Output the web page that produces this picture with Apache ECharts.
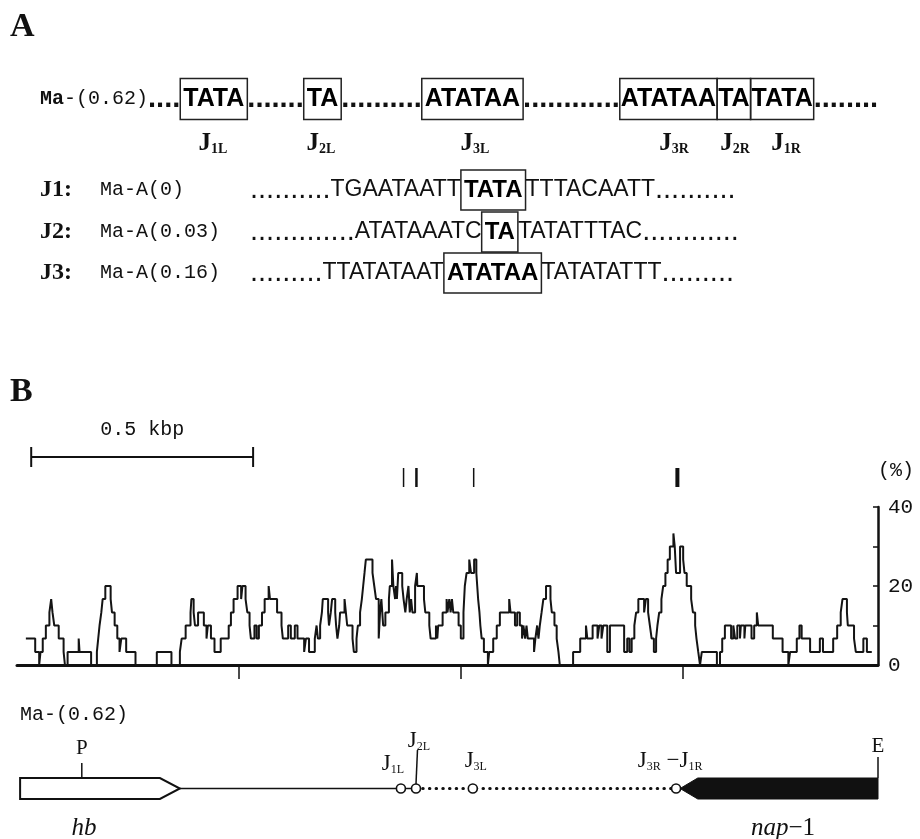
<!DOCTYPE html>
<html>
<head>
<meta charset="utf-8">
<title>Ma-(0.62)</title>
<script src="https://cdn.jsdelivr.net/npm/echarts@6.0.0/dist/echarts.min.js"></script>
<style>
html,body{margin:0;padding:0;background:#ffffff;}
#chart{width:920px;height:839px;}
</style>
</head>
<body>
<div id="chart"></div>
<script>
// ================= DATA =================
// Panel B profile: breakpoints along Ma-(0.62) (bp) and the value (%) that starts there
const positionsBp = [
  20, 41, 50, 53, 58, 65, 73, 77, 80, 84,
  94, 105, 108, 114, 139, 141, 167, 180, 183, 186,
  190, 193, 199, 211, 214, 220, 226, 231, 235, 246,
  267, 315, 348, 367, 371, 380, 391, 393, 398, 401,
  408, 421, 427, 430, 437, 445, 459, 477, 482, 488,
  497, 505, 508, 515, 519, 524, 527, 535, 540, 545,
  552, 558, 567, 570, 586, 596, 599, 611, 617, 626,
  632, 647, 651, 658, 671, 675, 678, 683, 687, 689,
  701, 703, 707, 710, 717, 719, 722, 726, 728, 738,
  741, 744, 756, 759, 765, 768, 773, 777, 780, 783,
  786, 801, 805, 809, 815, 818, 821, 825, 830, 838,
  840, 845, 848, 852, 854, 856, 859, 868, 871, 875,
  878, 882, 885, 888, 891, 897, 901, 902, 917, 920,
  929, 932, 944, 947, 949, 959, 968, 970, 974, 977,
  980, 983, 995, 1000, 1006, 1009, 1013, 1019, 1023, 1030,
  1035, 1037, 1039, 1042, 1044, 1047, 1052, 1061, 1064, 1073,
  1081, 1088, 1109, 1112, 1122, 1127, 1133, 1138, 1141, 1145,
  1148, 1151, 1165, 1168, 1172, 1175, 1178, 1182, 1186, 1192,
  1202, 1205, 1211, 1216, 1220, 1223, 1253, 1269, 1282, 1285,
  1297, 1308, 1312, 1317, 1321, 1330, 1336, 1368, 1375, 1380,
  1385, 1391, 1395, 1400, 1413, 1417, 1422, 1426, 1430, 1435,
  1440, 1443, 1447, 1452, 1456, 1461, 1466, 1471, 1479, 1482,
  1485, 1494, 1501, 1504, 1509, 1519, 1523, 1528, 1531, 1535,
  1539, 1543, 1577, 1584, 1589, 1595, 1609, 1614, 1618, 1623,
  1629, 1631, 1639, 1641, 1655, 1661, 1667, 1670, 1703, 1725,
  1738, 1742, 1757, 1763, 1768, 1787, 1809, 1816, 1839, 1848,
  1856, 1860, 1870, 1872, 1886, 1890, 1907, 1915, 1926
];
const percent = [
  6.7, 3.3, 0, 3.3, 6.7, 10, 13.3, 16.7, 13.3, 10,
  6.7, 3.3, 0, 3.3, 6.7, 3.3, 0, 3.3, 6.7, 10,
  13.3, 16.7, 20, 16.7, 13.3, 10, 6.7, 3.3, 6.7, 3.3,
  0, 3.3, 0, 3.3, 6.7, 10, 13.3, 16.7, 13.3, 10,
  13.3, 10, 6.7, 10, 6.7, 3.3, 6.7, 10, 13.3, 16.7,
  20, 16.7, 20, 16.7, 13.3, 10, 6.7, 10, 6.7, 10,
  13.3, 16.7, 20, 16.7, 13.3, 10, 6.7, 10, 6.7, 10,
  6.7, 3.3, 6.7, 3.3, 6.7, 10, 6.7, 10, 13.3, 16.7,
  13.3, 10, 13.3, 16.7, 13.3, 10, 6.7, 10, 13.3, 16.7,
  13.3, 10, 6.7, 3.3, 6.7, 10, 13.3, 16.7, 20, 23.3,
  26.7, 23.3, 20, 16.7, 6.7, 13.3, 16.7, 10, 13.3, 16.7,
  20, 26.7, 20, 16.7, 20, 16.7, 23.3, 20, 16.7, 13.3,
  16.7, 20, 13.3, 16.7, 13.3, 20, 23.3, 20, 16.7, 13.3,
  10, 6.7, 10, 6.7, 10, 13.3, 16.7, 13.3, 16.7, 13.3,
  16.7, 13.3, 10, 6.7, 13.3, 20, 23.3, 26.7, 23.3, 26.7,
  23.3, 20, 16.7, 13.3, 10, 6.7, 3.3, 0, 3.3, 6.7,
  10, 13.3, 16.7, 13.3, 10, 13.3, 10, 6.7, 10, 6.7,
  10, 6.7, 3.3, 6.7, 10, 6.7, 10, 13.3, 16.7, 20,
  16.7, 13.3, 10, 6.7, 3.3, 0, 3.3, 6.7, 10, 6.7,
  10, 6.7, 10, 6.7, 10, 3.3, 10, 3.3, 6.7, 3.3,
  6.7, 10, 13.3, 16.7, 13.3, 16.7, 13.3, 10, 6.7, 3.3,
  6.7, 10, 13.3, 16.7, 20, 23.3, 26.7, 30, 33.3, 30,
  23.3, 30, 26.7, 23.3, 20, 16.7, 13.3, 10, 6.7, 3.3,
  0, 3.3, 0, 3.3, 6.7, 10, 6.7, 10, 6.7, 10,
  6.7, 10, 6.7, 10, 6.7, 10, 13.3, 10, 6.7, 3.3,
  0, 3.3, 6.7, 10, 6.7, 3.3, 6.7, 3.3, 6.7, 10,
  13.3, 16.7, 13.3, 10, 6.7, 3.3, 6.7, 3.3, 3.3
];
const yTickLabels = [0, 20, 40];
const xTicksBp = [500, 1000, 1500];
const axisMaxBp = 1940;
const scaleBarBp = [32, 532];
const scaleBarLabel = '0.5 kbp';
const cutMarksBp = [871, 900, 1029, 1488];

// Panel B map of Ma-(0.62)
const mapTitle = 'Ma-(0.62)';
const junctionBp = [865, 899, 1027, 1485];
const junctionLabels = ['{j|J}{s|1L}', '{j|J}{s|2L}', '{j|J}{s|3L}', '{j|J}{s|3R}{j| −J}{s|1R}'];
const geneNames = ['{i|hb}', '{i|nap}{n|−1}'];
const geneStartBp = [7, 1494];
const geneEndBp = [367, 1940];
const geneHeadBp = [45, 40];
const geneStrand = [1, -1];
const siteNames = ['P', 'E'];
const siteBp = [146, 1940];
const solidBackboneBp = [367, 899];
const dottedBackboneBp = [899, 1485];

// Panel A texts
const rowTop = '{mab|Ma}{ma|-(0.62)}{d|....}{b|TATA}{d|.......}{b|TA}{d|..........}{b|ATATAA}{d|............}{c|ATATAA}{c|TA}{c|TATA}{d|........}';
const topLabels = ['{j|J}{s|1L}', '{j|J}{s|2L}', '{j|J}{s|3L}', '{j|J}{s|3R}', '{j|J}{s|2R}', '{j|J}{s|1R}'];
const rowNames = ['J1:', 'J2:', 'J3:'];
const rowStrains = ['Ma-A(0)', 'Ma-A(0.03)', 'Ma-A(0.16)'];
const rowSeqs = [
  '{d|..........}{r|TGAATAATT}{b|TATA}{r|TTTACAATT}{d|..........}',
  '{d|.............}{r|ATATAAATC}{b|TA}{r|TATATTTAC}{d|............}',
  '{d|.........}{r|TTATATAAT}{b|ATATAA}{r|TATATATTT}{d|.........}'
];

// ================= STYLE / LAYOUT =================
const INK = '#111';
const GRID_L = 17, GRID_R = 42;
const topLabelX = [213, 321, 475, 674, 735, 786];
const rowY = [190, 232, 273];
const cutMarkW = [1.5, 2.5, 1.5, 4];
const junctionDx = [-8, 3, 3, -6];
const junctionDy = [-25, -48, -28, -28];
const junctionLeader = [0, 34, 0, 0];
const siteTickLen = [15, 21];
const geneLabelDx = [-16, 4];

const boxBase = {fontFamily: 'Liberation Sans', fontWeight: 'bold', lineHeight: 24,
  borderColor: '#222', borderWidth: 1.5, fill: '#000'};
const richTop = {
  mab: {fontFamily: 'Liberation Mono', fontWeight: 'bold', fontSize: 20, fill: INK},
  ma: {fontFamily: 'Liberation Mono', fontSize: 20, fill: INK},
  d: {fontFamily: 'Liberation Sans', fontWeight: 'bold', fontSize: 29, fill: INK},
  b: Object.assign({}, boxBase, {fontSize: 25, padding: [8, 3, 8, 3]}),
  c: Object.assign({}, boxBase, {fontSize: 25, padding: [8, 1, 8, 1]})
};
const richSeq = {
  d: {fontFamily: 'Liberation Sans', fontSize: 29, fill: INK},
  r: {fontFamily: 'Liberation Sans', fontSize: 23, fill: INK},
  b: Object.assign({}, boxBase, {fontSize: 24, padding: [8, 3, 8, 3]})
};
const richJTop = {
  j: {fontFamily: 'Liberation Serif', fontWeight: 'bold', fontSize: 25, lineHeight: 26, verticalAlign: 'bottom', fill: INK},
  s: {fontFamily: 'Liberation Serif', fontWeight: 'bold', fontSize: 14, lineHeight: 17, verticalAlign: 'bottom', fill: INK}
};
const richJMap = {
  j: {fontFamily: 'Liberation Serif', fontSize: 23, lineHeight: 24, verticalAlign: 'bottom', fill: INK},
  s: {fontFamily: 'Liberation Serif', fontSize: 12, lineHeight: 15, verticalAlign: 'bottom', fill: INK}
};
const richGene = {
  i: {fontFamily: 'Liberation Serif', fontStyle: 'italic', fontSize: 25, fill: INK},
  n: {fontFamily: 'Liberation Serif', fontSize: 25, fill: INK}
};

// ================= GRAPHIC (panel A + headings) =================
const graphic = [
  {type: 'text', x: 10, y: 27, style: {text: 'A', font: 'bold 34px "Liberation Serif"', textVerticalAlign: 'middle', fill: INK}},
  {type: 'text', x: 40, y: 99, style: {text: rowTop, rich: richTop, textVerticalAlign: 'middle'}},
  {type: 'text', x: 10, y: 392, style: {text: 'B', font: 'bold 34px "Liberation Serif"', textVerticalAlign: 'middle', fill: INK}},
  {type: 'text', x: 20, y: 715, style: {text: mapTitle, font: '20px "Liberation Mono"', textVerticalAlign: 'middle', fill: INK}}
];
topLabels.forEach((t, i) => graphic.push({
  type: 'text', x: topLabelX[i], y: 143,
  style: {text: t, rich: richJTop, textAlign: 'center', textVerticalAlign: 'middle'}
}));
rowNames.forEach((n, i) => {
  graphic.push({type: 'text', x: 40, y: rowY[i], style: {text: n, font: 'bold 24px "Liberation Serif"', textVerticalAlign: 'middle', fill: INK}});
  graphic.push({type: 'text', x: 100, y: rowY[i], style: {text: rowStrains[i], font: '20px "Liberation Mono"', textVerticalAlign: 'middle', fill: INK}});
  graphic.push({type: 'text', x: 250, y: rowY[i], style: {text: rowSeqs[i], rich: richSeq, textVerticalAlign: 'middle'}});
});

// ================= CHART =================
const chart = echarts.init(document.getElementById('chart'), null, {renderer: 'canvas'});
const option = {
  animation: false,
  backgroundColor: '#ffffff',
  graphic: graphic,
  grid: [
    {left: GRID_L, right: GRID_R, top: 507, height: 158},
    {left: GRID_L, right: GRID_R, top: 778, height: 21}
  ],
  xAxis: [
    {
      gridIndex: 0, type: 'value', min: 0, max: axisMaxBp,
      axisLine: {show: true, onZero: false, lineStyle: {color: INK, width: 3}},
      axisTick: {show: true, customValues: xTicksBp, length: 14, lineStyle: {color: INK, width: 1.5}},
      axisLabel: {show: false}, splitLine: {show: false}
    },
    {gridIndex: 1, type: 'value', min: 0, max: axisMaxBp, show: false}
  ],
  yAxis: [
    {
      gridIndex: 0, type: 'value', position: 'right', min: 0, max: 40, interval: 10,
      name: '(%)', nameLocation: 'end', nameGap: 26,
      nameTextStyle: {fontFamily: 'Liberation Mono', fontSize: 20, color: INK, align: 'left'},
      axisLine: {show: true, onZero: false, lineStyle: {color: INK, width: 2.5}},
      axisTick: {show: true, inside: true, length: 5, lineStyle: {color: INK, width: 1.5}},
      axisLabel: {
        margin: 10, fontFamily: 'Liberation Mono', fontSize: 21, color: INK,
        formatter: v => (yTickLabels.indexOf(v) >= 0 ? String(v) : '')
      },
      splitLine: {show: false}
    },
    {gridIndex: 1, type: 'value', min: 0, max: 1, show: false}
  ],
  series: [
    {
      type: 'line', xAxisIndex: 0, yAxisIndex: 0, step: 'end',
      data: positionsBp.map((x, i) => [x, percent[i]]),
      showSymbol: false, symbol: 'none', z: 3,
      lineStyle: {color: '#141414', width: 2}
    },
    { // cut-site marks above the profile
      type: 'custom', xAxisIndex: 0, yAxisIndex: 0, silent: true,
      data: cutMarksBp.map(x => [x]),
      renderItem: (params, api) => {
        const p = api.coord([api.value(0), 40]);
        const w = cutMarkW[params.dataIndex];
        return {type: 'rect', shape: {x: p[0] - w / 2, y: p[1] - 39, width: w, height: 19}, style: {fill: INK}};
      }
    },
    { // scale bar
      type: 'custom', xAxisIndex: 0, yAxisIndex: 0, silent: true,
      data: [scaleBarBp],
      renderItem: (params, api) => {
        const a = api.coord([api.value(0), 40]);
        const b = api.coord([api.value(1), 40]);
        const y = a[1] - 50;
        const st = {stroke: INK, lineWidth: 2};
        return {type: 'group', children: [
          {type: 'line', shape: {x1: a[0], y1: y, x2: b[0], y2: y}, style: st},
          {type: 'line', shape: {x1: a[0], y1: y - 10, x2: a[0], y2: y + 10}, style: st},
          {type: 'line', shape: {x1: b[0], y1: y - 10, x2: b[0], y2: y + 10}, style: st},
          {type: 'text', x: (a[0] + b[0]) / 2, y: y - 27, style: {text: scaleBarLabel, font: '20px "Liberation Mono"', textAlign: 'center', textVerticalAlign: 'middle', fill: INK}}
        ]};
      }
    },
    { // solid backbone
      type: 'line', xAxisIndex: 1, yAxisIndex: 1, showSymbol: false, symbol: 'none', silent: true,
      data: solidBackboneBp.map(x => [x, 0.5]),
      lineStyle: {color: INK, width: 1.5}
    },
    { // dotted backbone
      type: 'line', xAxisIndex: 1, yAxisIndex: 1, showSymbol: false, symbol: 'none', silent: true,
      data: dottedBackboneBp.map(x => [x, 0.5]),
      lineStyle: {color: INK, width: 3, type: [0.5, 6.2], cap: 'round'}
    },
    { // genes
      type: 'custom', xAxisIndex: 1, yAxisIndex: 1, silent: true,
      data: geneStartBp.map((s, i) => [s, geneEndBp[i], geneHeadBp[i], geneStrand[i]]),
      renderItem: (params, api) => {
        const i = params.dataIndex;
        const s = api.value(0), e = api.value(1), h = api.value(2), strand = api.value(3);
        const top = api.coord([s, 1])[1], bot = api.coord([s, 0])[1], mid = (top + bot) / 2;
        const xs = api.coord([s, 0])[0], xe = api.coord([e, 0])[0];
        let pts, style;
        if (strand > 0) {
          const xb = api.coord([e - h, 0])[0];
          pts = [[xs, top], [xb, top], [xe, mid], [xb, bot], [xs, bot]];
          style = {fill: '#fff', stroke: INK, lineWidth: 2};
        } else {
          const xb = api.coord([s + h, 0])[0];
          pts = [[xs, mid], [xb, top], [xe, top], [xe, bot], [xb, bot]];
          style = {fill: INK, stroke: INK, lineWidth: 1};
        }
        return {type: 'group', children: [
          {type: 'polygon', shape: {points: pts}, style: style},
          {type: 'text', x: (xs + xe) / 2 + geneLabelDx[i], y: bot + 29,
           style: {text: geneNames[i], rich: richGene, textAlign: 'center', textVerticalAlign: 'middle'}}
        ]};
      }
    },
    { // P / E sites
      type: 'custom', xAxisIndex: 1, yAxisIndex: 1, silent: true,
      data: siteBp.map(x => [x]),
      renderItem: (params, api) => {
        const i = params.dataIndex;
        const p = api.coord([api.value(0), 1]);
        const len = siteTickLen[i];
        return {type: 'group', children: [
          {type: 'line', shape: {x1: p[0], y1: p[1], x2: p[0], y2: p[1] - len}, style: {stroke: INK, lineWidth: 1.5}},
          {type: 'text', x: p[0], y: p[1] - len - (i === 0 ? 4 : 0),
           style: {text: siteNames[i], font: '21px "Liberation Serif"', textAlign: 'center', textVerticalAlign: 'bottom', fill: INK}}
        ]};
      }
    },
    { // junction sites
      type: 'custom', xAxisIndex: 1, yAxisIndex: 1, silent: true, z: 5,
      data: junctionBp.map(x => [x, 0.5]),
      renderItem: (params, api) => {
        const i = params.dataIndex;
        const p = api.coord([api.value(0), api.value(1)]);
        const r = 4.5;
        const children = [];
        if (junctionLeader[i] > 0) {
          children.push({type: 'line', shape: {x1: p[0], y1: p[1] - r, x2: p[0] + 1.5, y2: p[1] - r - junctionLeader[i]}, style: {stroke: INK, lineWidth: 1.5}});
        }
        children.push({type: 'circle', shape: {cx: p[0], cy: p[1], r: r}, style: {fill: '#fff', stroke: INK, lineWidth: 1.6}});
        children.push({type: 'text', x: p[0] + junctionDx[i], y: p[1] + junctionDy[i],
          style: {text: junctionLabels[i], rich: richJMap, textAlign: 'center', textVerticalAlign: 'middle'}});
        return {type: 'group', children: children};
      }
    }
  ]
};
chart.setOption(option);
</script>
</body>
</html>
